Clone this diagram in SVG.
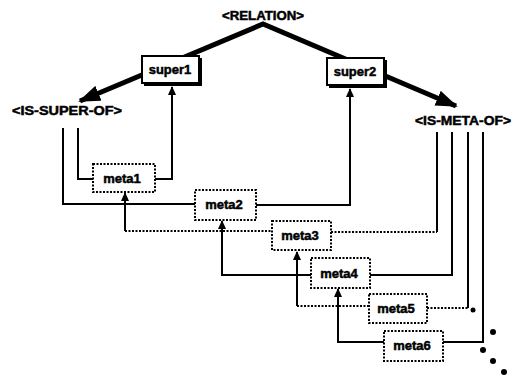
<svg xmlns="http://www.w3.org/2000/svg" width="517" height="378" viewBox="0 0 517 378">
<defs>
<style>
.lbl{font-family:"Liberation Sans",Arial,sans-serif;font-weight:bold;font-size:13px;fill:#000;stroke:#000;stroke-width:0.5;text-anchor:middle}
.ln{fill:none;stroke:#000;stroke-width:2}
.dt{fill:none;stroke:#000;stroke-width:2;stroke-dasharray:2 1.5}
.thick{fill:none;stroke:#000;stroke-width:5;stroke-linejoin:miter}
.sbox{fill:#fff;stroke:#000;stroke-width:2}
.shadow{fill:#000}
.mbox{fill:#fff;stroke:#000;stroke-width:2;stroke-dasharray:2 1.5}
</style>
<marker id="big" markerUnits="userSpaceOnUse" markerWidth="24" markerHeight="16" refX="20" refY="8" orient="auto-start-reverse">
<path d="M0,0 L22,8 L0,16 z" fill="#000"/>
</marker>
<marker id="small" markerUnits="userSpaceOnUse" markerWidth="10" markerHeight="8" refX="8" refY="4" orient="auto">
<path d="M0,0 L9,4 L0,8 z" fill="#000"/>
</marker>
</defs>
<rect width="517" height="378" fill="#fff"/>

<g id="connectors">
<polyline class="thick" points="80,101 263,24 456,106" marker-start="url(#big)" marker-end="url(#big)"/>
<polyline class="ln" points="78,128 78,179 93,179"/>
<polyline class="ln" points="63,128 63,204 195,204"/>
<polyline class="ln" points="155,179 172,179 172,87" marker-end="url(#small)"/>
<polyline class="ln" points="256,205 350,205 350,89" marker-end="url(#small)"/>
<polyline class="ln" points="125,231 125,193" marker-end="url(#small)"/>
<polyline class="dt" points="125,231 272,231"/>
<polyline class="ln" points="311,275 222,275 222,221" marker-end="url(#small)"/>
<polyline class="dt" points="331,232 437,232"/>
<polyline class="ln" points="437,232 437,132"/>
<polyline class="ln" points="370,275 452,275 452,132"/>
<polyline class="ln" points="297,306 297,252" marker-end="url(#small)"/>
<polyline class="dt" points="297,306 369,306"/>
<polyline class="dt" points="427,308 468,308"/>
<polyline class="ln" points="468,308 468,132"/>
<polyline class="ln" points="384,342 338,342 338,289" marker-end="url(#small)"/>
<polyline class="ln" points="443,342 483,342 483,132"/>
</g>

<g id="relation"><text class="lbl" x="263" y="20" textLength="82" lengthAdjust="spacingAndGlyphs">&lt;RELATION&gt;</text></g>
<g id="is-super-of"><text class="lbl" x="67" y="115" textLength="110" lengthAdjust="spacingAndGlyphs">&lt;IS-SUPER-OF&gt;</text></g>
<g id="is-meta-of"><text class="lbl" x="463" y="125" textLength="96" lengthAdjust="spacingAndGlyphs">&lt;IS-META-OF&gt;</text></g>

<g id="super1">
<rect class="shadow" x="144" y="58" width="58" height="28"/>
<rect class="sbox" x="142" y="56" width="57" height="27"/>
<text class="lbl" x="170" y="74">super1</text>
</g>
<g id="super2">
<rect class="shadow" x="329" y="60" width="58" height="28"/>
<rect class="sbox" x="327" y="58" width="57" height="27"/>
<text class="lbl" x="355" y="76">super2</text>
</g>

<g id="meta1"><rect class="mbox" x="93" y="164" width="62" height="28"/><text class="lbl" x="122" y="183">meta1</text></g>
<g id="meta2"><rect class="mbox" x="195" y="190" width="61" height="30"/><text class="lbl" x="224" y="209">meta2</text></g>
<g id="meta3"><rect class="mbox" x="272" y="221" width="59" height="29"/><text class="lbl" x="300" y="240">meta3</text></g>
<g id="meta4"><rect class="mbox" x="311" y="258" width="59" height="30"/><text class="lbl" x="339" y="278">meta4</text></g>
<g id="meta5"><rect class="mbox" x="369" y="294" width="58" height="29"/><text class="lbl" x="396" y="313">meta5</text></g>
<g id="meta6"><rect class="mbox" x="384" y="331" width="59" height="30"/><text class="lbl" x="412" y="350">meta6</text></g>

<g id="ellipsis" fill="#000">
<circle cx="473" cy="310" r="2.5"/>
<circle cx="493" cy="332" r="3"/>
<circle cx="483" cy="350" r="3"/>
<circle cx="493" cy="361" r="3"/>
<circle cx="504" cy="372" r="3"/>
</g>
</svg>
